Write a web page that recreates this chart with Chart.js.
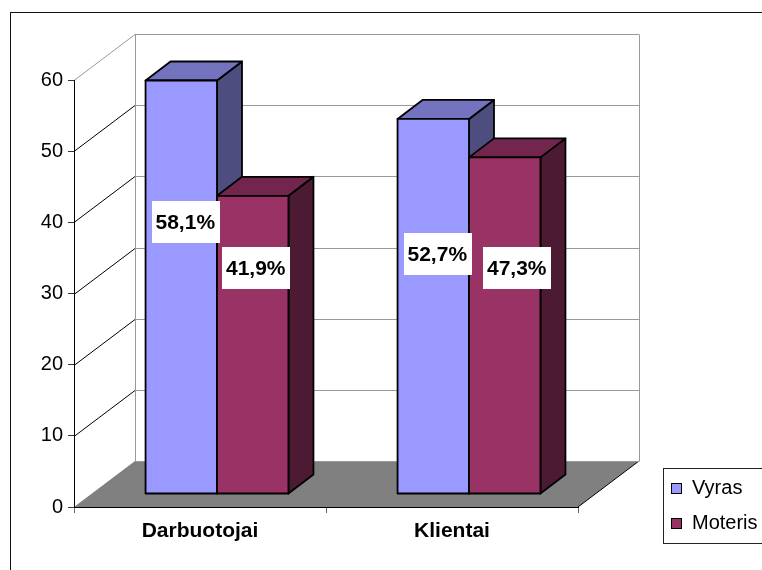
<!DOCTYPE html>
<html>
<head>
<meta charset="utf-8">
<script src="https://cdn.jsdelivr.net/npm/chart.js@4.4.0/dist/chart.umd.min.js"></script>
<style>
  html, body { margin: 0; padding: 0; background: #fff; }
  #wrap { width: 762px; height: 570px; }
</style>
</head>
<body>
<div id="wrap"><canvas id="chart" width="762" height="570"></canvas></div>
<script>
// Chart data
const categories = ['Darbuotojai', 'Klientai'];
const seriesNames = ['Vyras', 'Moteris'];
const vyrasValues = [58.1, 52.7];
const moterisValues = [41.9, 47.3];
const yTicks = [0, 10, 20, 30, 40, 50, 60];

// Colours per series: front, top, side
const vyrasShades = ['#9999ff', '#7373bf', '#4d4d80'];
const moterisShades = ['#993366', '#73264d', '#4d1a33'];
const shadeSets = [vyrasShades, moterisShades];

const fontFamily = '"Liberation Sans", Arial, sans-serif';

// 3D look (pixels)
const DEPTH = { dx: 61, dy: -46 };
const BAR_FRONT = { dx: 17, dy: -13 };
const BAR_DEPTH = { dx: 25, dy: -19 };
// label placement per series/category: [x shift, height in axis units]
const LABEL_POS = [[[4, 38.2], [4, 33.7]], [[3, 31.7], [12, 31.7]]];

function fmtPct(v) {
    return v.toFixed(1).replace('.', ',') + '%';
}

function poly(ctx, pts, fill) {
    ctx.beginPath();
    ctx.moveTo(pts[0][0], pts[0][1]);
    for (let k = 1; k < pts.length; k++) ctx.lineTo(pts[k][0], pts[k][1]);
    ctx.closePath();
    ctx.fillStyle = fill;
    ctx.fill();
    ctx.stroke();
}

const box3d = {
    id: 'box3d',
    beforeDraw(chart) {
        const ctx = chart.ctx;
        const a = chart.chartArea;
        const y = chart.scales.y;
        const bottom = y.getPixelForValue(0);
        const top = y.getPixelForValue(yTicks[yTicks.length - 1]);
        ctx.save();

        // floor
        ctx.fillStyle = '#808080';
        ctx.beginPath();
        ctx.moveTo(a.left, bottom);
        ctx.lineTo(a.left + DEPTH.dx, bottom + DEPTH.dy);
        ctx.lineTo(a.right + DEPTH.dx, bottom + DEPTH.dy);
        ctx.lineTo(a.right, bottom);
        ctx.closePath();
        ctx.fill();

        // floor right edge
        ctx.strokeStyle = '#000';
        ctx.lineWidth = 1;
        ctx.beginPath();
        ctx.moveTo(a.right, bottom);
        ctx.lineTo(a.right + DEPTH.dx, bottom + DEPTH.dy);
        ctx.stroke();

        // walls
        yTicks.forEach(v => {
            const py = Math.round(y.getPixelForValue(v)) + 0.5;
            ctx.strokeStyle = '#999';
            ctx.beginPath();
            ctx.moveTo(a.left + DEPTH.dx, py + DEPTH.dy);
            ctx.lineTo(a.right + DEPTH.dx, py + DEPTH.dy);
            ctx.stroke();
            if (v > 0) {
                ctx.strokeStyle = v === yTicks[yTicks.length - 1] ? '#999' : '#000';
                ctx.beginPath();
                ctx.moveTo(a.left, py);
                ctx.lineTo(a.left + DEPTH.dx, py + DEPTH.dy);
                ctx.stroke();
            }
        });
        ctx.strokeStyle = '#999';
        [a.left, a.right].forEach(x => {
            const px = Math.round(x + DEPTH.dx) + 0.5;
            ctx.beginPath();
            ctx.moveTo(px, Math.round(top + DEPTH.dy) + 0.5);
            ctx.lineTo(px, Math.round(bottom + DEPTH.dy) + 0.5);
            ctx.stroke();
        });
        ctx.restore();
    },
    beforeDatasetDraw() {
        // bars are drawn as boxes below
        return false;
    },
    afterDatasetsDraw(chart) {
        const ctx = chart.ctx;
        const y = chart.scales.y;
        ctx.save();
        ctx.lineWidth = 1.8;
        ctx.strokeStyle = '#000';
        ctx.lineJoin = 'round';
        categories.forEach((c, i) => {
            chart.data.datasets.forEach((ds, d) => {
                const bar = chart.getDatasetMeta(d).data[i];
                const s = shadeSets[d];
                const x0 = bar.x - bar.width / 2 + BAR_FRONT.dx;
                const x1 = bar.x + bar.width / 2 + BAR_FRONT.dx;
                const yt = bar.y + BAR_FRONT.dy;
                const yb = bar.base + BAR_FRONT.dy;
                const ddx = BAR_DEPTH.dx, ddy = BAR_DEPTH.dy;
                poly(ctx, [[x1, yt], [x1 + ddx, yt + ddy], [x1 + ddx, yb + ddy], [x1, yb]], s[2]);
                poly(ctx, [[x0, yt], [x0 + ddx, yt + ddy], [x1 + ddx, yt + ddy], [x1, yt]], s[1]);
                poly(ctx, [[x0, yt], [x1, yt], [x1, yb], [x0, yb]], s[0]);
            });
        });

        // data labels
        ctx.font = 'bold 21px ' + fontFamily;
        ctx.textAlign = 'center';
        ctx.textBaseline = 'middle';
        categories.forEach((c, i) => {
            chart.data.datasets.forEach((ds, d) => {
                const bar = chart.getDatasetMeta(d).data[i];
                const pos = LABEL_POS[d][i];
                const text = fmtPct(ds.data[i]);
                const cx = bar.x + BAR_FRONT.dx + pos[0];
                const cy = y.getPixelForValue(pos[1]) + BAR_FRONT.dy;
                const w = ctx.measureText(text).width + 8;
                const h = 42;
                ctx.fillStyle = '#fff';
                ctx.fillRect(Math.round(cx - w / 2), Math.round(cy - h / 2), Math.round(w), h);
                ctx.fillStyle = '#000';
                ctx.fillText(text, cx, cy + 1);
            });
        });
        ctx.restore();
    },
    afterDraw(chart) {
        const ctx = chart.ctx;
        ctx.save();
        // outer frame
        ctx.strokeStyle = '#111';
        ctx.lineWidth = 1;
        ctx.strokeRect(10.5, 12.5, 800, 600);

        // legend
        const lx = 663, ly = 468;
        ctx.strokeStyle = '#222';
        ctx.strokeRect(lx + 0.5, ly + 0.5, 120, 75);
        ctx.font = '20px ' + fontFamily;
        ctx.textAlign = 'left';
        ctx.textBaseline = 'middle';
        chart.data.datasets.forEach((ds, d) => {
            const my = ly + 15 + d * 35;
            ctx.fillStyle = shadeSets[d][0];
            ctx.fillRect(lx + 8, my, 11, 11);
            ctx.strokeStyle = '#000';
            ctx.strokeRect(lx + 8.5, my + 0.5, 10, 10);
            ctx.fillStyle = '#000';
            ctx.fillText(ds.label, lx + 29, my + 5.5);
        });
        ctx.restore();
    }
};

new Chart(document.getElementById('chart'), {
    type: 'bar',
    data: {
        labels: categories,
        datasets: [
            { label: seriesNames[0], data: vyrasValues, backgroundColor: vyrasShades[0] },
            { label: seriesNames[1], data: moterisValues, backgroundColor: moterisShades[0] }
        ]
    },
    options: {
        responsive: false,
        animation: false,
        devicePixelRatio: 1,
        datasets: {
            bar: { categoryPercentage: 0.567, barPercentage: 1 }
        },
        layout: { padding: { top: 80, right: 184, bottom: 0, left: 0 } },
        plugins: {
            legend: { display: false },
            tooltip: { enabled: false }
        },
        scales: {
            x: {
                grid: { drawOnChartArea: false, offset: true, tickLength: 6, color: '#666' },
                border: { color: '#000', width: 1 },
                ticks: {
                    color: '#000',
                    padding: 6,
                    font: { family: fontFamily, size: 21, weight: 'bold' }
                },
                afterFit(s) { s.height = 63; }
            },
            y: {
                min: 0,
                max: 60,
                afterBuildTicks(s) { s.ticks = yTicks.map(v => ({ value: v })); },
                grid: { drawOnChartArea: false, tickLength: 6, color: '#333' },
                border: { color: '#000', width: 1 },
                ticks: {
                    color: '#000',
                    padding: 5,
                    font: { family: fontFamily, size: 20 }
                },
                afterFit(s) { s.width = 74; }
            }
        }
    },
    plugins: [box3d]
});
</script>
</body>
</html>
